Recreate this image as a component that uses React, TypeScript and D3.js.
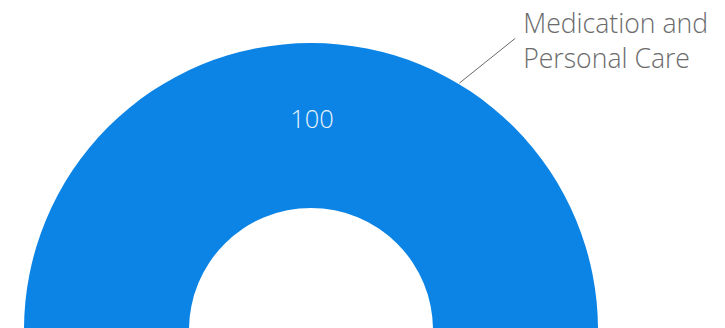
import React from "react";
import * as d3 from "d3";

const categories = ["Medication and Personal Care"];
const values = [100];
const labelLines = [["Medication and", "Personal Care"]];
const colors = ["#0b84e5"];

const W = 725;
const H = 328;

export default function App() {
  const cx = 311;
  const cy = 330;
  const R = 287;
  const r = 122;

  const pie = d3
    .pie<number>()
    .sort(null)
    .startAngle(-Math.PI / 2)
    .endAngle(Math.PI / 2);
  const arcs = pie(values);
  const arc = d3.arc<d3.PieArcDatum<number>>().innerRadius(r).outerRadius(R);

  const leadA = (31 * Math.PI) / 180;
  const leadB = (35 * Math.PI) / 180;
  const p1 = [Math.sin(leadA) * (R + 1), -Math.cos(leadA) * (R + 1)];
  const p2 = [Math.sin(leadB) * 356, -Math.cos(leadB) * 356];

  return (
    <svg
      width={W}
      height={H}
      style={{ position: "absolute", left: 0, top: 0, display: "block" }}
    >
      <g transform={`translate(${cx},${cy})`}>
        {arcs.map((a, i) => {
          const [lx, ly] = arc.centroid(a);
          return (
            <g key={categories[i]}>
              <path d={arc(a) || ""} fill={colors[i]} />
              <text
                x={lx + 1}
                y={ly - 6}
                dy="0.35em"
                textAnchor="middle"
                fill="#e8f2fc"
                fontFamily="'Open Sans', sans-serif"
                fontWeight={300}
                fontSize={25.5}
              >
                {a.data}
              </text>
              <line
                x1={p1[0]}
                y1={p1[1]}
                x2={p2[0]}
                y2={p2[1]}
                stroke="#6a6a6a"
                strokeWidth={1}
              />
              <text
                x={p2[0] + 8}
                y={-297}
                fill="#6b6b6b"
                fontFamily="'Open Sans', sans-serif"
                fontWeight={300}
                fontSize={26.6}
              >
                {labelLines[i].map((t, j) => (
                  <tspan key={j} x={p2[0] + 8} dy={j === 0 ? 0 : 34.5}>
                    {t}
                  </tspan>
                ))}
              </text>
            </g>
          );
        })}
      </g>
    </svg>
  );
}
